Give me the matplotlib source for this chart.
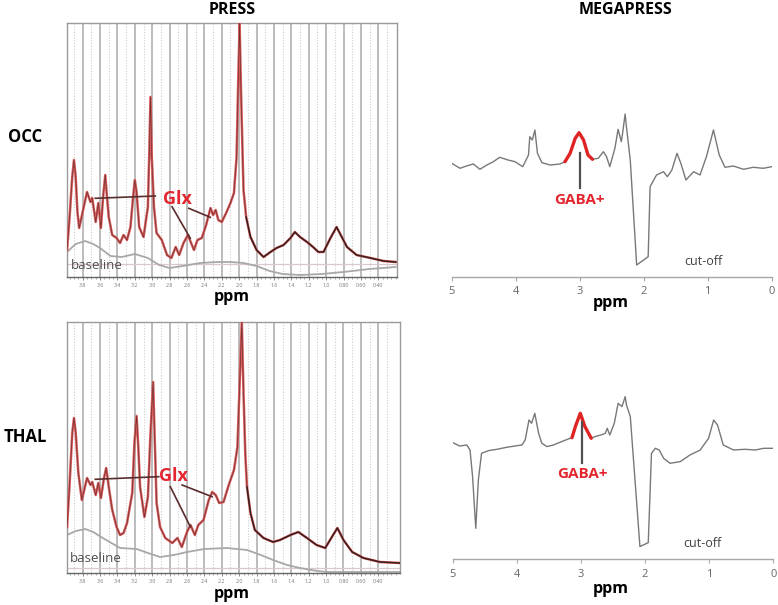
import matplotlib
matplotlib.use("Agg")
import matplotlib.pyplot as plt

plt.rcParams['font.family'] = ['Open Sans', 'DejaVu Sans']

# ---------------- data ----------------
panel_titles = ["PRESS", "MEGAPRESS"]
row_labels = ["OCC", "THAL"]

press_ticks = [3.8, 3.6, 3.4, 3.2, 3.0, 2.8, 2.6, 2.4, 2.2, 2.0, 1.8, 1.6, 1.4, 1.2, 1.0, 0.8, 0.6, 0.4]
press_tick_labels = ["3.8", "3.6", "3.4", "3.2", "3.0", "2.8", "2.6", "2.4", "2.2", "2.0",
                     "1.8", "1.6", "1.4", "1.2", "1.0", "0.80", "0.60", "0.40"]
press_minor = [3.9, 3.7, 3.5, 3.3, 3.1, 2.9, 2.7, 2.5, 2.3, 2.1, 1.9, 1.7, 1.5, 1.3, 1.1, 0.9, 0.7, 0.5, 0.3]

# OCC PRESS spectrum (fit / data), amplitude in arbitrary units
occ_ppm = [3.98, 3.95, 3.92, 3.90, 3.88, 3.86, 3.84, 3.75, 3.71, 3.69, 3.65, 3.62, 3.59, 3.565,
           3.54, 3.52, 3.50, 3.46, 3.41, 3.37, 3.33, 3.29, 3.25, 3.22, 3.20, 3.18, 3.15, 3.10,
           3.05, 3.035, 3.02, 3.005, 2.98, 2.95, 2.89, 2.83, 2.78, 2.73, 2.69, 2.64, 2.59, 2.52,
           2.48, 2.43, 2.38, 2.33, 2.30, 2.27, 2.24, 2.20, 2.15, 2.10, 2.06, 2.03, 2.01, 1.995,
           1.98, 1.96, 1.95, 1.92, 1.87, 1.80, 1.72, 1.64, 1.57, 1.49, 1.41, 1.36, 1.30, 1.22,
           1.15, 1.09, 1.03, 0.95, 0.88, 0.82, 0.76, 0.65, 0.49, 0.34, 0.20]
occ_amp = [27, 60, 100, 117, 100, 65, 49, 85, 75, 79, 55, 74, 49, 80,
           102, 80, 60, 42, 39, 34, 42, 37, 50, 80, 97, 85, 50, 40,
           70, 120, 180, 120, 70, 44, 37, 22, 19, 30, 22, 34, 42, 27,
           37, 39, 52, 69, 62, 67, 57, 55, 64, 74, 84, 120, 200, 254,
           190, 120, 87, 60, 40, 27, 20, 25, 29, 32, 39, 45, 40, 35,
           30, 25, 25, 39, 50, 40, 30, 22, 19, 16, 15]
occ_base_ppm = [3.98, 3.88, 3.77, 3.68, 3.60, 3.48, 3.35, 3.20, 3.05, 2.92, 2.80, 2.65, 2.45,
                2.25, 2.10, 1.95, 1.80, 1.65, 1.50, 1.30, 1.05, 0.80, 0.50, 0.20]
occ_base_amp = [25, 33, 36, 33, 29, 21, 20, 23, 19, 12, 9, 11, 14, 15, 15, 14, 11, 6, 3, 2, 3, 5, 8, 10]
occ_ref_level = [13, 13]

# THAL PRESS spectrum
thal_ppm = [3.98, 3.95, 3.92, 3.90, 3.88, 3.85, 3.81, 3.75, 3.71, 3.69, 3.65, 3.62, 3.59, 3.555,
            3.53, 3.50, 3.46, 3.41, 3.37, 3.33, 3.29, 3.23, 3.205, 3.18, 3.16, 3.14, 3.09, 3.05,
            3.02, 2.99, 2.97, 2.95, 2.91, 2.85, 2.77, 2.71, 2.66, 2.60, 2.56, 2.51, 2.47, 2.41,
            2.35, 2.31, 2.27, 2.23, 2.18, 2.12, 2.06, 2.02, 1.99, 1.97, 1.95, 1.93, 1.91, 1.87,
            1.82, 1.72, 1.61, 1.53, 1.41, 1.32, 1.22, 1.11, 1.01, 0.92, 0.87, 0.80, 0.70, 0.57,
            0.38, 0.15]
thal_amp = [46, 90, 140, 155, 140, 100, 73, 95, 88, 91, 78, 90, 75, 95,
            105, 86, 63, 46, 38, 40, 50, 80, 130, 157, 125, 86, 56, 76,
            140, 191, 130, 70, 46, 35, 30, 35, 26, 41, 48, 38, 48, 53,
            73, 81, 78, 70, 71, 88, 103, 126, 200, 251, 180, 120, 86, 60,
            43, 35, 31, 33, 38, 41, 35, 28, 25, 38, 45, 33, 21, 15,
            11, 10]
thal_base_ppm = [3.98, 3.88, 3.77, 3.68, 3.55, 3.37, 3.18, 3.05, 2.91, 2.75, 2.60, 2.40, 2.14,
                 1.91, 1.75, 1.61, 1.45, 1.30, 1.10, 0.99, 0.60, 0.15]
thal_base_amp = [38, 42, 44, 41, 34, 25, 24, 20, 16, 18, 21, 24, 25, 23, 18, 13, 8, 5, 2, 1, 1, 1]
thal_ref_level = [5, 5]

# MEGAPRESS difference spectra
mega_ticks = [5, 4, 3, 2, 1, 0]
occ_mega_ppm = [5.00, 4.87, 4.77, 4.66, 4.56, 4.45, 4.35, 4.25, 4.12, 4.01, 3.89, 3.80, 3.78,
                3.74, 3.70, 3.66, 3.59, 3.46, 3.31, 3.23, 3.15, 3.07, 3.01, 2.94, 2.87, 2.80,
                2.71, 2.63, 2.58, 2.53, 2.45, 2.40, 2.35, 2.33, 2.29, 2.27, 2.21, 2.11, 1.93,
                1.90, 1.80, 1.69, 1.63, 1.56, 1.48, 1.42, 1.34, 1.22, 1.12, 1.02, 0.91, 0.82,
                0.73, 0.60, 0.44, 0.29, 0.13, 0.00]
occ_mega_amp = [1.7, -3.3, -1, 1, -4.3, 0, 3.3, 7.7, 5, 3.3, -1.7, 10, 28.3,
                25, 35, 11.7, 2.3, 0, 1, 3.3, 11.7, 26.7, 32.3, 25, 10, 5.7,
                6.7, 13.3, 8.3, -1.7, 16.7, 35.7, 23.3, 31.7, 51, 38.3, 5, -100, -91.7,
                -21.7, -10, -6.7, -11.7, -5, 11.7, 1.7, -15, -6.7, -10, 8.3, 35, 10,
                -2.3, -1, -4.3, -2.3, -3.3, -1.7]
occ_gaba_ppm = [3.23, 3.15, 3.07, 3.01, 2.94, 2.87, 2.80]
occ_gaba_amp = [3.3, 11.7, 26.7, 32.3, 25, 10, 5.7]

thal_mega_ppm = [5.00, 4.89, 4.78, 4.73, 4.69, 4.64, 4.60, 4.55, 4.44, 4.31, 4.16, 4.03, 3.92,
                 3.87, 3.81, 3.77, 3.72, 3.66, 3.61, 3.53, 3.43, 3.30, 3.17, 3.14, 3.08, 3.01,
                 2.94, 2.84, 2.78, 2.69, 2.62, 2.59, 2.55, 2.48, 2.42, 2.36, 2.31, 2.29, 2.23,
                 2.08, 1.95, 1.90, 1.84, 1.78, 1.71, 1.61, 1.45, 1.30, 1.14, 1.01, 0.93, 0.87,
                 0.78, 0.62, 0.44, 0.28, 0.15, 0.00]
thal_mega_amp = [0.7, -2.7, -1.7, -6.7, -33.3, -85, -36.7, -10, -7.3, -6, -4, -2.7, -1.7,
                 3.3, 23.3, 20, 30, 10, 0, -3.3, -1.7, 1.7, 5, 5.6, 18, 30,
                 17, 5, 6.7, 8.3, 10, 15, 8.3, 20, 40, 36.7, 46.7, 38.3, 26.7,
                 -103.3, -99.3, -10, -5, -6.7, -15, -20, -18.3, -11.7, -6.7, 5, 23.3, 18.3,
                 -1.7, -6.7, -6, -6.7, -5, -5]
thal_gaba_ppm = [3.14, 3.08, 3.01, 2.94, 2.84]
thal_gaba_amp = [5.6, 18, 30, 17, 5]

# ---------------- figure ----------------
W, H = 778, 605
fig = plt.figure(figsize=(W / 100, H / 100), dpi=100)
fig.patch.set_facecolor('white')


def rect(l, t, r, b):
    return [l / W, 1 - b / H, (r - l) / W, (b - t) / H]


def fxy(x, y):
    return x / W, 1 - y / H


RED = '#d85a5a'
TXT_RED = '#e3262f'
LINE_DARK = '#5a2d2d'


def press_panel(box, xl, ylim, ppm, amp, bppm, bamp, ref, glx_txt, glx_lines):
    ax = fig.add_axes(rect(*box))
    ax.set_xlim(*xl)
    ax.set_ylim(*ylim)
    for t in press_ticks:
        ax.axvline(t, color='#b0b0b0', lw=1.2, zorder=1)
    for t in press_minor:
        ax.axvline(t, color='#cdcdcd', lw=0.8, ls=(0, (1, 1.5)), zorder=1)
    ax.plot([xl[0], xl[1]], ref, color='#dcc8c8', lw=0.9, zorder=2)
    ax.plot(bppm, bamp, color='#a8a8a8', lw=1.3, zorder=2)
    ax.plot(ppm, amp, color=RED, lw=1.8, zorder=3, solid_joinstyle='round')
    ax.plot(ppm, amp, color='#2a1515', lw=0.5, alpha=0.6, zorder=4)
    tail = [i for i, p in enumerate(ppm) if p < 1.93]
    ax.plot([ppm[i] for i in tail], [amp[i] for i in tail], color='#2a1a1a', lw=1.1,
            alpha=0.85, zorder=4)
    for (x0, y0, x1, y1) in glx_lines:
        ax.plot([x0, x1], [y0, y1], color=LINE_DARK, lw=1.2, zorder=5)
    ax.text(glx_txt[0], glx_txt[1], "Glx", color=TXT_RED, fontsize=13, fontweight='bold',
            ha='center', va='center', zorder=6)
    ax.text(xl[0] - 0.04, ylim[0] + glx_txt[2], "baseline", color='#505050',
            fontsize=9.5, ha='left', va='center', zorder=6)
    ax.set_xticks(press_ticks)
    ax.set_xticklabels(press_tick_labels, fontsize=3.8, color='#777')
    ax.set_xticks([v / 20 for v in range(4, 80)], minor=True)
    ax.tick_params(axis='x', which='major', length=2, width=0.6, color='#777', pad=2)
    ax.tick_params(axis='x', which='minor', length=1.3, width=0.5, color='#888')
    ax.set_yticks([])
    for s in ax.spines.values():
        s.set_color('#9a9a9a')
        s.set_linewidth(1.0)
    ax.spines['bottom'].set_color('#666')
    return ax


press_panel((67, 23, 397, 277), (3.98, 0.185), (0, 254), occ_ppm, occ_amp,
            occ_base_ppm, occ_base_amp, occ_ref_level,
            (2.715, 78, 11),
            [(3.655, 78.7, 2.965, 81), (2.772, 70.3, 2.562, 38.7), (2.58, 68.7, 2.332, 59.7)])
press_panel((66.7, 322, 400, 573), (3.984, 0.15), (0, 251), thal_ppm, thal_amp,
            thal_base_ppm, thal_base_amp, thal_ref_level,
            (2.753, 97, 15),
            [(3.655, 93.7, 2.925, 96.3), (2.792, 86.3, 2.562, 46.3), (2.657, 88, 2.312, 76.3)])


def mega_panel(box, ylim, ppm, amp, gppm, gamp, gaba_line, gaba_txt, cut_txt):
    ax = fig.add_axes(rect(*box))
    ax.set_xlim(5, 0)
    ax.set_ylim(*ylim)
    ax.plot(ppm, amp, color='#787878', lw=1.0, zorder=2)
    ax.plot(gppm, gamp, color='#e02424', lw=2.4, zorder=3, solid_capstyle='round')
    ax.plot([gaba_line[0], gaba_line[0]], [gaba_line[1], gaba_line[2]], color='#505050', lw=1.6, zorder=3)
    ax.text(gaba_txt[0], gaba_txt[1], "GABA+", color=TXT_RED, fontsize=11, fontweight='bold',
            ha='center', va='center')
    ax.text(cut_txt[0], cut_txt[1], "cut-off", color='#404040', fontsize=9, ha='center', va='center')
    for s in ('left', 'right', 'top'):
        ax.spines[s].set_visible(False)
    ax.spines['bottom'].set_color('#a8a8a8')
    ax.spines['bottom'].set_linewidth(1.0)
    ax.set_yticks([])
    ax.set_xticks(mega_ticks)
    ax.set_xticklabels([str(t) for t in mega_ticks], fontsize=8, color='#666')
    ax.tick_params(axis='x', length=3, width=0.8, color='#a8a8a8', pad=4)
    return ax


mega_panel((451.7, 90, 771.7, 276.7), (-111.7, 75), occ_mega_ppm, occ_mega_amp,
           occ_gaba_ppm, occ_gaba_amp, (2.99, 11.7, -23.3), (3.0, -35), (1.07, -96.7))
mega_panel((452.7, 370, 773.3, 559.3), (-116, 73.3), thal_mega_ppm, thal_mega_amp,
           thal_gaba_ppm, thal_gaba_amp, (2.98, 21.6, -20), (2.98, -31), (1.1, -100))

# titles and labels
for title, x in zip(panel_titles, (232, 625)):
    fig.text(*fxy(x, 10), title, fontsize=11.5, fontweight='bold', ha='center', va='center')
for lab, y in zip(row_labels, (137, 437)):
    fig.text(*fxy(25, y), lab, fontsize=12, fontweight='bold', ha='center', va='center')
for x, y in ((232, 297), (232, 594), (611, 303), (611, 589)):
    fig.text(*fxy(x, y), "ppm", fontsize=11.5, fontweight='bold', ha='center', va='center')

fig.savefig("out.png", dpi=100)
